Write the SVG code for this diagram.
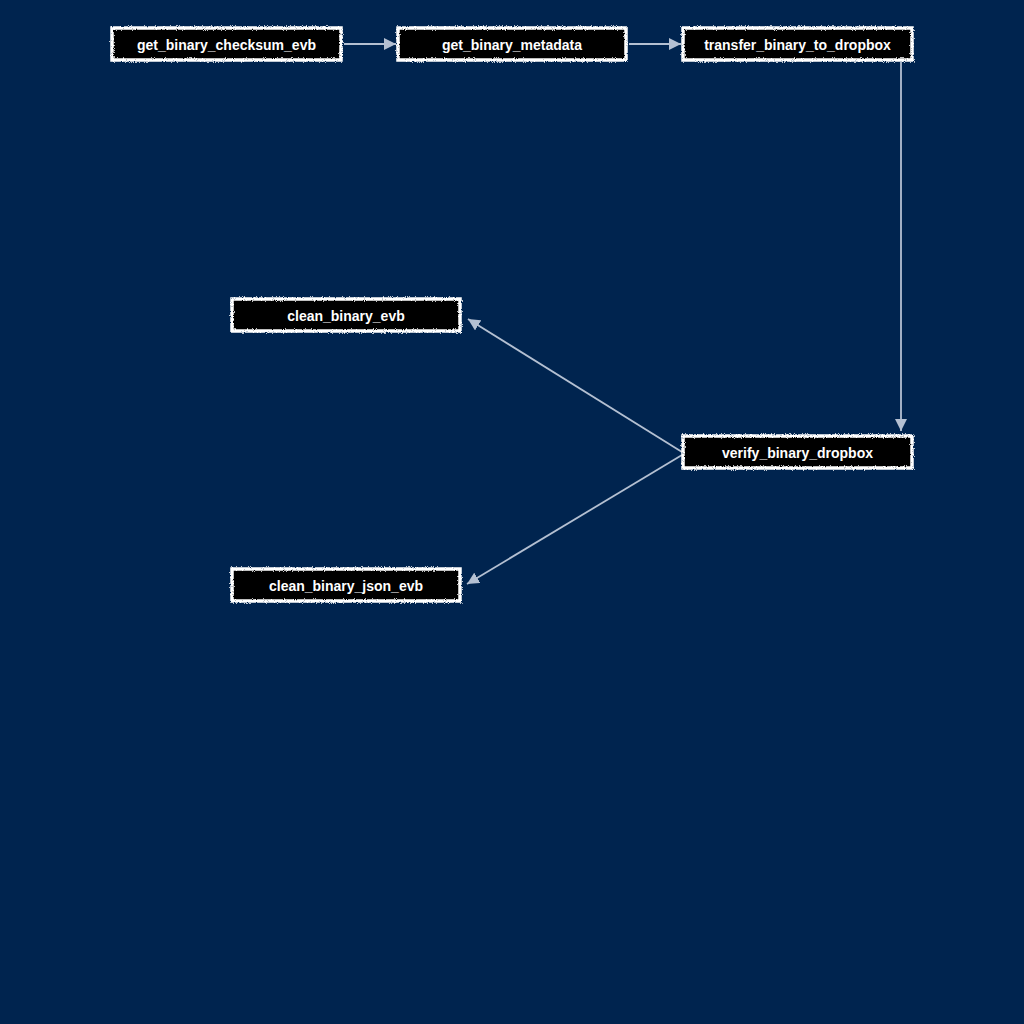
<svg xmlns="http://www.w3.org/2000/svg" width="1024" height="1024" viewBox="0 0 1024 1024">
<defs>
<style>
.box{fill:#000;stroke:#fff;stroke-width:3.5;filter:url(#rough)}
.lbl{fill:#fff;font-family:"Liberation Sans",Arial,sans-serif;font-weight:bold;font-size:14px;text-anchor:middle;dominant-baseline:central}
.edge{fill:none;stroke:#b4c0d2;stroke-width:1.8}
</style>
<filter id="rough" x="-5%" y="-20%" width="110%" height="140%">
<feTurbulence type="fractalNoise" baseFrequency="0.9" numOctaves="2" seed="3" result="n"/>
<feDisplacementMap in="SourceGraphic" in2="n" scale="3.2"/>
</filter>
<marker id="arr" viewBox="0 0 10 10" refX="10" refY="5" markerWidth="12" markerHeight="12" markerUnits="userSpaceOnUse" orient="auto">
<path d="M0,0 L10,5 L0,10 z" fill="#b4c0d2"/>
</marker>
</defs>
<rect width="1024" height="1024" fill="#00244f"/>
<g id="connectors">
<path class="edge" d="M344,44 L396,44" marker-end="url(#arr)"/>
<path class="edge" d="M629,44 L681,44" marker-end="url(#arr)"/>
<path class="edge" d="M901,62 L901,431" marker-end="url(#arr)"/>
<path class="edge" d="M682,452 L468,319" marker-end="url(#arr)"/>
<path class="edge" d="M682,455 L467,584" marker-end="url(#arr)"/>
</g>
<g id="get_binary_checksum_evb"><rect class="box" x="112" y="28" width="229" height="32"/><text class="lbl" x="226.5" y="45">get_binary_checksum_evb</text></g>
<g id="get_binary_metadata"><rect class="box" x="398" y="28" width="228" height="32"/><text class="lbl" x="512" y="45">get_binary_metadata</text></g>
<g id="transfer_binary_to_dropbox"><rect class="box" x="683" y="28" width="229" height="32"/><text class="lbl" x="797.5" y="45">transfer_binary_to_dropbox</text></g>
<g id="verify_binary_dropbox"><rect class="box" x="683" y="436" width="229" height="32"/><text class="lbl" x="797.5" y="453">verify_binary_dropbox</text></g>
<g id="clean_binary_evb"><rect class="box" x="232" y="299" width="228" height="32"/><text class="lbl" x="346" y="316">clean_binary_evb</text></g>
<g id="clean_binary_json_evb"><rect class="box" x="232" y="569" width="228" height="32"/><text class="lbl" x="346" y="586">clean_binary_json_evb</text></g>
</svg>
